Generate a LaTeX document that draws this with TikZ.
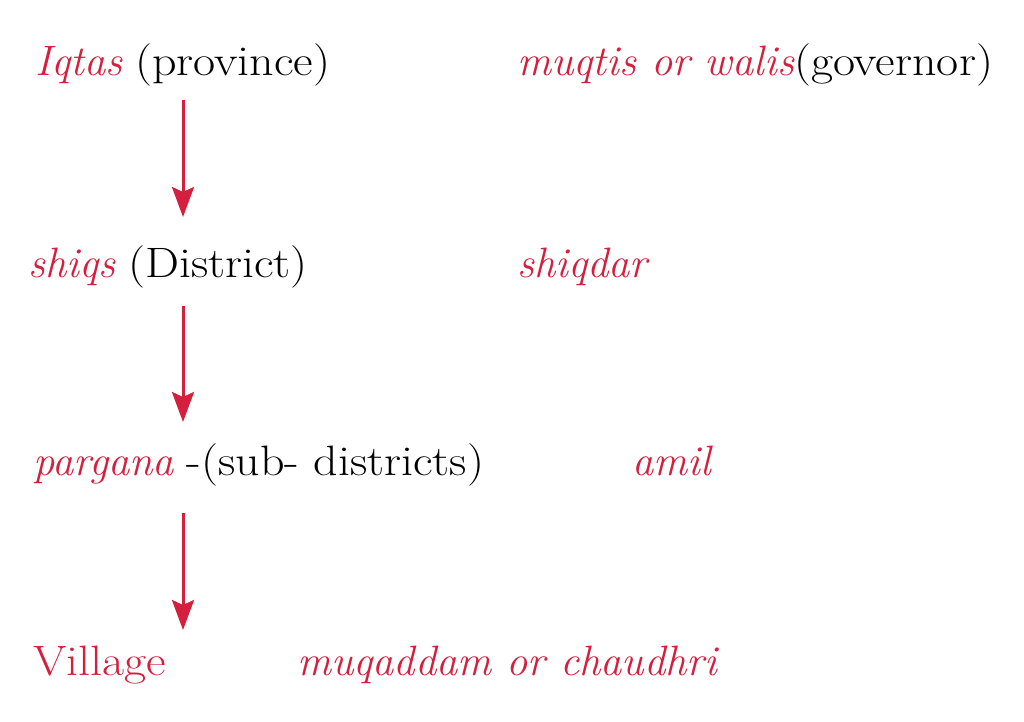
\documentclass[tikz,border=0pt]{standalone}
\usepackage{graphicx}
\usetikzlibrary{arrows.meta}
\definecolor{crim}{RGB}{212,32,62}
\tikzset{
  lbl/.style={anchor=base west, inner sep=0pt, font=\fontsize{42.5}{51}\selectfont, text=black},
  arr/.style={crim, line width=3pt, -{Stealth[length=30pt,width=22pt,inset=5pt]}}
}
\newcommand{\rd}[1]{\textcolor{crim}{\itshape #1}}
\newcommand{\up}[1]{\scalebox{1.13}[1]{#1}}
\begin{document}
\begin{tikzpicture}[x=1pt,y=-1pt]
\useasboundingbox (0,0) rectangle (1024,721);
\fill[white] (0,0) rectangle (1024,721);
\node[lbl] (r1l) at (35,75) {\rd{Iqtas} \up{(province)}};
\node[lbl] (r1r) at (517,75) {\rd{muqtis or walis}\up{(governor)}};
\node[lbl] (r2l) at (28,277) {\rd{shiqs} \up{(District)}};
\node[lbl] (r2r) at (517,277) {\rd{shiqdar}};
\node[lbl] (r3l) at (33,475) {\rd{pargana} \up{-(sub- districts)}};
\node[lbl] (r3r) at (632,475) {\rd{amil}};
\node[lbl] (r4l) at (33,675) {\textcolor{crim}{\up{Village}}};
\node[lbl] (r4r) at (297,675) {\rd{muqaddam or chaudhri}};
\coordinate (a1s) at (183,100);
\coordinate (a1e) at (183,217);
\coordinate (a2s) at (183,306);
\coordinate (a2e) at (183,422);
\coordinate (a3s) at (183,513);
\coordinate (a3e) at (183,630);
\draw[arr] (a1s) -- (a1e);
\draw[arr] (a2s) -- (a2e);
\draw[arr] (a3s) -- (a3e);
\end{tikzpicture}
\end{document}
